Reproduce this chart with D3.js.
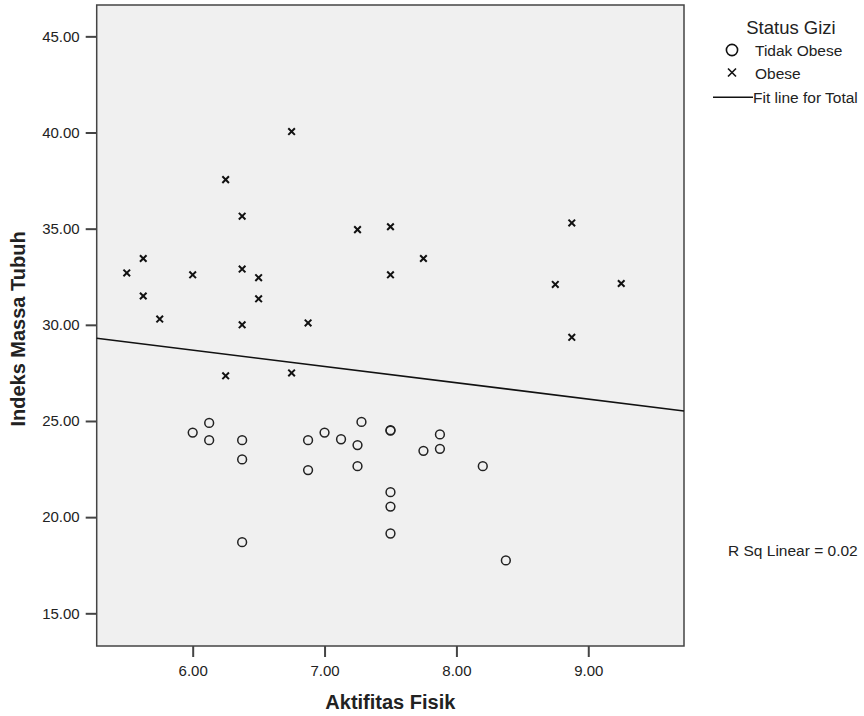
<!DOCTYPE html>
<html>
<head>
<meta charset="utf-8">
<script src="https://cdn.jsdelivr.net/npm/d3@7"></script>
<style>
  body { margin: 0; background: #fff; }
  text { font-family: "Liberation Sans", Arial, sans-serif; fill: #222; }
</style>
</head>
<body>
<div id="chart"></div>
<script>
// Data
const obeseX = [6.75, 6.25, 6.375, 7.25, 7.5, 5.625, 5.5, 6.0, 6.375, 6.5, 7.5, 5.625,
  6.5, 5.75, 6.375, 6.875, 6.25, 6.75, 7.75, 8.875, 8.75, 9.25, 8.875];
const obeseY = [40.05, 37.55, 35.65, 34.95, 35.1, 33.45, 32.7, 32.6, 32.9, 32.45, 32.6, 31.5,
  31.35, 30.3, 30.0, 30.1, 27.35, 27.5, 33.45, 35.3, 32.1, 32.15, 29.35];

const tidakX = [6.0, 6.125, 6.125, 6.375, 6.375, 6.375, 6.875, 6.875, 7.0, 7.125, 7.28, 7.25,
  7.25, 7.5, 7.5, 7.5, 7.5, 7.5, 7.75, 7.875, 7.875, 8.2, 8.375];
const tidakY = [24.4, 24.9, 24.0, 24.0, 23.0, 18.7, 24.0, 22.45, 24.4, 24.05, 24.95, 23.75,
  22.65, 24.5, 24.52, 21.3, 20.55, 19.15, 23.45, 24.3, 23.55, 22.65, 17.75];

const xTicks = [6, 7, 8, 9];
const yTicks = [15, 20, 25, 30, 35, 40, 45];
const fitLine = [33.78, -0.849]; // intercept, slope (Fit line for Total)
const legendItems = ["Tidak Obese", "Obese", "Fit line for Total"];

const margin = { top: 5, left: 96.7 },
  width = 587.3,
  height = 641;

const svg = d3.select("#chart").append("svg")
  .attr("width", 864)
  .attr("height", 716);

const g = svg.append("g")
  .attr("transform", "translate(" + margin.left + "," + margin.top + ")");

const x = d3.scaleLinear().domain([5.272, 9.726]).range([0, width]);
const y = d3.scaleLinear().domain([13.3, 46.63]).range([height, 0]);

// plot background
g.append("rect")
  .attr("width", width)
  .attr("height", height)
  .attr("fill", "#f0f0f0");

// axes
const xAxis = g.append("g")
  .attr("transform", "translate(0," + height + ")")
  .call(d3.axisBottom(x).tickValues(xTicks).tickSize(11).tickPadding(8).tickFormat(d3.format(".2f")));
const yAxis = g.append("g")
  .call(d3.axisLeft(y).tickValues(yTicks).tickSize(11).tickPadding(6).tickFormat(d3.format(".2f")));

[xAxis, yAxis].forEach(function (a) {
  a.select(".domain").remove();
  a.selectAll(".tick line").attr("stroke", "#444").attr("stroke-width", 2);
  a.selectAll(".tick text")
    .style("font-size", "15px")
    .style("font-family", "'Liberation Sans', Arial, sans-serif")
    .attr("fill", "#222");
});

// frame
g.append("rect")
  .attr("width", width)
  .attr("height", height)
  .attr("fill", "none")
  .attr("stroke", "#444")
  .attr("stroke-width", 1.5);

// fit line
const xd = x.domain();
g.append("line")
  .attr("x1", x(xd[0]))
  .attr("y1", y(fitLine[0] + fitLine[1] * xd[0]))
  .attr("x2", x(xd[1]))
  .attr("y2", y(fitLine[0] + fitLine[1] * xd[1]))
  .attr("stroke", "#111")
  .attr("stroke-width", 1.6);

// markers
function crossPath(s) {
  return "M" + -s + "," + -s + "L" + s + "," + s + "M" + -s + "," + s + "L" + s + "," + -s;
}

g.selectAll(".obese")
  .data(d3.zip(obeseX, obeseY))
  .enter()
  .append("path")
  .attr("class", "obese")
  .attr("transform", function (d) { return "translate(" + x(d[0]) + "," + y(d[1]) + ")"; })
  .attr("d", crossPath(3.3))
  .attr("stroke", "#111")
  .attr("stroke-width", 2);

g.selectAll(".tidak")
  .data(d3.zip(tidakX, tidakY))
  .enter()
  .append("circle")
  .attr("class", "tidak")
  .attr("cx", function (d) { return x(d[0]); })
  .attr("cy", function (d) { return y(d[1]); })
  .attr("r", 4.4)
  .attr("fill", "none")
  .attr("stroke", "#222")
  .attr("stroke-width", 1.5);

// axis titles
svg.append("text")
  .attr("x", margin.left + width / 2)
  .attr("y", 709)
  .attr("text-anchor", "middle")
  .style("font-size", "20px")
  .style("font-weight", "bold")
  .text("Aktifitas Fisik");

svg.append("text")
  .attr("transform", "translate(25," + 329 + ") rotate(-90)")
  .attr("text-anchor", "middle")
  .style("font-size", "20px")
  .style("font-weight", "bold")
  .text("Indeks Massa Tubuh");

// legend
const legend = svg.append("g");
legend.append("text")
  .attr("x", 791)
  .attr("y", 34)
  .attr("text-anchor", "middle")
  .style("font-size", "18.5px")
  .text("Status Gizi");

legend.append("circle")
  .attr("cx", 732)
  .attr("cy", 50)
  .attr("r", 5.6)
  .attr("fill", "none")
  .attr("stroke", "#111")
  .attr("stroke-width", 1.6);

legend.append("path")
  .attr("transform", "translate(732,72.5)")
  .attr("d", crossPath(4))
  .attr("stroke", "#111")
  .attr("stroke-width", 1.6);

legend.append("line")
  .attr("x1", 713).attr("x2", 753)
  .attr("y1", 97.3).attr("y2", 97.3)
  .attr("stroke", "#111")
  .attr("stroke-width", 1.6);

legend.selectAll(".item")
  .data(legendItems)
  .enter()
  .append("text")
  .attr("class", "item")
  .attr("x", function (d, i) { return i === 2 ? 753 : 755; })
  .attr("y", function (d, i) { return 55.5 + i * 23.5; })
  .style("font-size", "15.5px")
  .text(function (d) { return d; });

// R squared annotation
svg.append("text")
  .attr("x", 728)
  .attr("y", 555.5)
  .style("font-size", "15.5px")
  .text("R Sq Linear = 0.02");
</script>
</body>
</html>
